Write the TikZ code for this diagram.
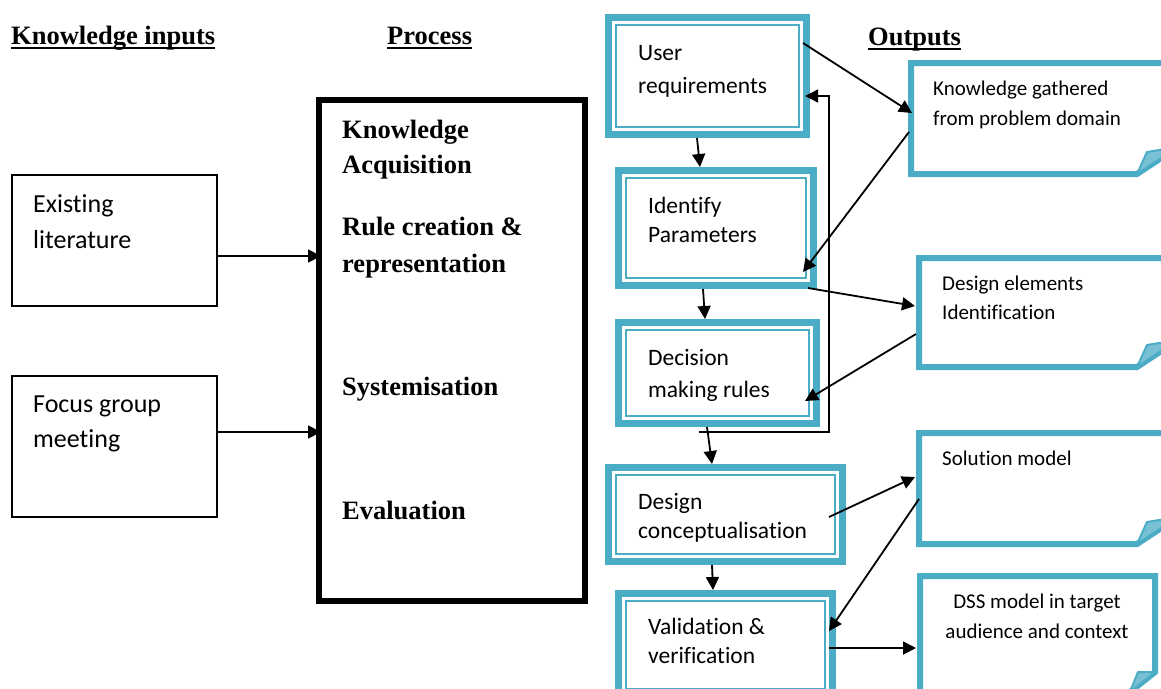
\documentclass[tikz,border=0pt]{standalone}
\usepackage{fontspec}
\setmainfont{Carlito}[Ligatures=NoCommon]
\newfontfamily\tnrfont{Liberation Serif}
\usetikzlibrary{arrows.meta}
\definecolor{bl}{HTML}{4BACC6}
\definecolor{bllight}{HTML}{B7DEE8}
\newcommand\fs[2]{\fontsize{#1}{#2}\selectfont}
\newcommand\lines[1]{\begin{tabular}[t]{@{}l@{}}#1\end{tabular}}
\newcommand\clines[1]{\begin{tabular}[t]{@{}c@{}}#1\end{tabular}}
% name, x1, y1, x2, y2 (outer edges, pixels)
\newcommand\mybluebox[5]{%
  \node[bbox, minimum width={#4-#2-7}, minimum height={#5-#3-7}] (#1) at ({(#2+#4)/2},{(#3+#5)/2}) {};
  \draw[innerline] ([xshift=11pt,yshift=-11pt]#1.north west) rectangle ([xshift=-11pt,yshift=11pt]#1.south east);
}
% name, x1, y1, x2, y2 (centre line), cut dx, cut dy, flap dx, flap dy
\newcommand\myoutbox[9]{%
  \node[oshape, minimum width={#4-#2}, minimum height={#5-#3}] (#1) at ({(#2+#4)/2},{(#3+#5)/2}) {};
  \draw[oline] (#1.north west) -- (#1.north east) -- ([yshift=#7pt]#1.south east)
     -- ([xshift=-#6pt]#1.south east) -- (#1.south west) -- cycle;
  \draw[flap] ([xshift=-#6pt]#1.south east) -- ([xshift={-#6pt+#8pt},yshift=#9pt]#1.south east)
     -- ([yshift=#7pt]#1.south east) -- cycle;
}
\begin{document}
\begin{tikzpicture}[x=1pt,y=-1pt,
  bbox/.style={draw=bl, line width=7pt, fill=white, rectangle, inner sep=0pt, outer sep=3.5pt},
  innerline/.style={draw=bl, line width=2.2pt},
  kbox/.style={draw=black, line width=1.3pt, rectangle, inner sep=0pt, outer sep=0pt},
  pbox/.style={draw=black, line width=6pt, rectangle, inner sep=0pt, outer sep=3pt},
  oshape/.style={draw=none, rectangle, inner sep=0pt, outer sep=0pt},
  oline/.style={draw=bl, line width=6pt, fill=white, line join=miter},
  flap/.style={draw=bl, line width=2pt, fill=bl!75!white, line join=round},
  arr/.style={line width=1.8pt, -{Triangle[length=13pt,width=13pt]}},
  tx/.style={anchor=base west, inner sep=0pt},
  head/.style={tx, font=\tnrfont\bfseries\fs{26.5}{32}},
  ptext/.style={tx, font=\tnrfont\bfseries\fs{26.5}{35}},
  btext/.style={tx, font=\fs{23.5}{29}},
  otext/.style={tx, font=\fs{21}{30}},
  uline/.style={line width=1.8pt}
]
\useasboundingbox (0,0) rectangle (1161,688);
\clip (0,0) rectangle (1161,688);

% headings
\node[head] (h1) at (11,44) {Knowledge inputs};
\node[head] (h2) at (387,44) {Process};
\node[head] (h3) at (868,45) {Outputs};
\foreach \h in {h1,h2,h3}
  \draw[uline] ([yshift=-4pt]\h.base west) -- ([yshift=-4pt]\h.base east);

% knowledge inputs
\node[kbox, minimum width=205, minimum height=131] (k1) at (114.5,240.5) {};
\node[tx, font=\fs{26}{36}] (k1t) at (33,212) {\lines{Existing\\literature}};
\node[kbox, minimum width=205, minimum height=141] (k2) at (114.5,446.5) {};
\node[tx, font=\fs{26}{35}] (k2t) at (33,412) {\lines{Focus group\\meeting}};

% process box
\node[pbox, minimum width=266, minimum height=501] (p) at (452,350.5) {};
\node[ptext] (p1) at (342,138) {\lines{Knowledge\\Acquisition}};
\node[ptext, font=\tnrfont\bfseries\fs{26.5}{37}] (p2) at (342,235) {\lines{Rule creation \&\\representation}};
\node[ptext] (p3) at (342,395) {Systemisation};
\node[ptext] (p4) at (342,519) {Evaluation};

\draw[arr] ([yshift=-15.5pt]k1.east) -- ([yshift=-15.5pt,xshift=5pt]k1.east -| p.west);
\draw[arr] ([yshift=14.5pt]k2.east) -- ([yshift=14.5pt,xshift=5pt]k2.east -| p.west);

% blue process steps
\mybluebox{b1}{605}{14}{810}{138}
\mybluebox{b2}{615}{167}{817}{289}
\mybluebox{b3}{615}{319}{820}{427}
\mybluebox{b4}{605}{464}{846}{565}
\mybluebox{b5}{615}{590}{836}{700}
\node[btext, font=\fs{23.5}{33}] (b1t) at (638,60) {\lines{User\\requirements}};
\node[btext] (b2t) at (648,213) {\lines{Identify\\Parameters}};
\node[btext, font=\fs{23.5}{32}] (b3t) at (648,365) {\lines{Decision\\making rules}};
\node[btext] (b4t) at (638,509) {\lines{Design\\conceptualisation}};
\node[btext] (b5t) at (648,634) {\lines{Validation \&\\verification}};

% output boxes
\myoutbox{o1}{911}{63}{1178}{174}{41}{27}{10}{22}
\myoutbox{o2}{919}{258}{1178}{367}{41}{27}{10}{22}
\myoutbox{o3}{919}{433}{1178}{544}{41}{27}{10}{22}
\myoutbox{o4}{920}{576}{1155}{692}{25}{20}{8}{20}
\node[otext] (o1t) at (933,95) {\lines{Knowledge gathered\\from problem domain}};
\node[otext, font=\fs{21}{29}] (o2t) at (942,290) {\lines{Design elements\\Identification}};
\node[otext] (o3t) at (942,465) {Solution model};
\node[otext, anchor=base] (o4t) at (1037,608) {\clines{DSS model in target\\audience and context}};

% arrows between steps
\draw[arr] ([xshift=-10.5pt]b1.south) -- ([xshift=-16pt]b2.north);
\draw[arr] ([xshift=-13pt]b2.south) -- ([xshift=-12.5pt]b3.north);
\draw[arr] ([xshift=-10.5pt]b3.south) -- ([xshift=-13.5pt]b4.north);
\draw[arr] ([xshift=-13.5pt]b4.south) -- ([xshift=-12.5pt]b5.north);
% feedback loop
\draw[arr, line width=1.4pt] ([xshift=-18.5pt,yshift=-5pt]b3.south) -- ++(130,0)
   |- ([xshift=-5pt,yshift=-20pt]b1.east);

% arrows to and from outputs
\draw[arr] ([xshift=-7pt,yshift=33pt]b1.east) -- ([xshift=1pt,yshift=5.5pt]o1.west);
\draw[arr] ([xshift=-2pt,yshift=-13.5pt]o1.west) -- ([xshift=-14pt,yshift=-44pt]b2.east);
\draw[arr] ([xshift=-9pt,yshift=1pt]b2.south east) -- ([xshift=-4pt,yshift=6.5pt]o2.west);
\draw[arr] ([xshift=-3pt,yshift=-21.5pt]o2.west) -- ([xshift=-15pt,yshift=-28pt]b3.east);
\draw[arr] ([xshift=-17pt,yshift=-2.5pt]b4.east) -- ([xshift=-4pt,yshift=11.5pt]o3.west);
\draw[arr] ([yshift=-10.5pt]o3.west) -- ([xshift=-7pt,yshift=14pt]b5.east);
\draw[arr] ([xshift=-7pt,yshift=-3pt]b5.east) -- ([xshift=-4pt,yshift=-14pt]o4.west);
\end{tikzpicture}
\end{document}
